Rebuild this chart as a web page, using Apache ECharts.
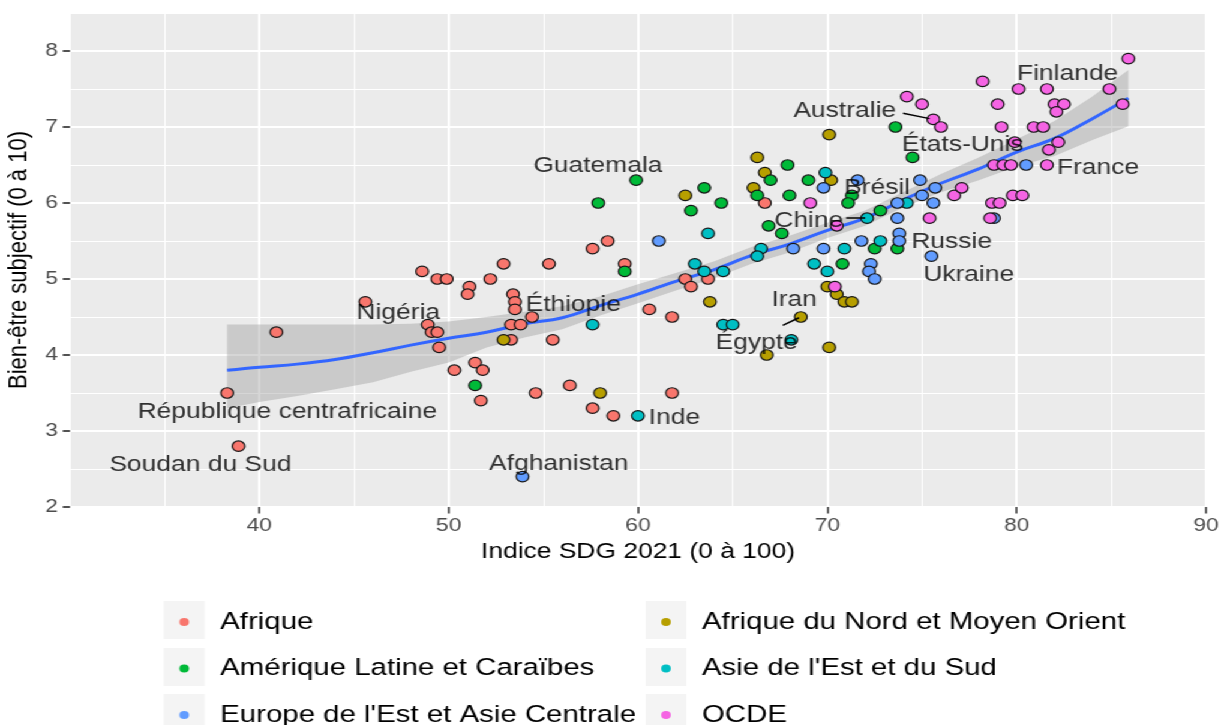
<!DOCTYPE html>
<html>
<head>
<meta charset="utf-8">
<script src="https://cdn.jsdelivr.net/npm/echarts@6/dist/echarts.min.js"></script>
<style>
html,body{margin:0;padding:0;background:#fff;overflow:hidden;width:1220px;height:725px;}
#c{width:1017px;height:725px;transform:scaleX(1.2);transform-origin:0 0;}
</style>
</head>
<body>
<div id="c"></div>
<script>
// ---------- data ----------
const groupNames = ['Afrique', 'Afrique du Nord et Moyen Orient', 'Amérique Latine et Caraïbes',
  "Asie de l'Est et du Sud", "Europe de l'Est et Asie Centrale", 'OCDE'];

const afrique = [[38.3,3.5],[38.9,2.8],[40.9,4.3],[45.6,4.7],[48.6,5.1],[49.4,5.0],[49.9,5.0],[48.9,4.4],
  [49.1,4.3],[49.4,4.3],[49.5,4.1],[50.3,3.8],[51.1,4.9],[51.0,4.8],[52.2,5.0],[52.9,5.2],[55.3,5.2],
  [57.6,5.4],[58.4,5.5],[59.3,5.2],[53.4,4.8],[53.5,4.7],[53.5,4.6],[54.4,4.5],[53.3,4.4],[53.8,4.4],
  [53.3,4.2],[55.5,4.2],[51.4,3.9],[51.8,3.8],[51.7,3.4],[54.6,3.5],[56.4,3.6],[57.6,3.3],[58.7,3.2],
  [60.6,4.6],[61.8,4.5],[61.8,3.5],[62.5,5.0],[62.8,4.9],[63.7,5.0],[66.7,6.0]];
const afriqueNord = [[52.9,4.2],[58.0,3.5],[63.8,4.7],[66.8,4.0],[68.6,4.5],[70.1,4.1],[70.0,4.9],[70.5,4.8],
  [70.9,4.7],[71.3,4.7],[70.2,6.3],[70.1,6.9],[62.5,6.1],[66.3,6.6],[66.7,6.4],[66.1,6.2]];
const ameriqueLatine = [[59.3,5.1],[51.4,3.6],[59.9,6.3],[57.9,6.0],[63.5,6.2],[62.8,5.9],[64.4,6.0],[67.9,6.5],
  [67.0,6.3],[69.0,6.3],[66.3,6.1],[68.0,6.1],[66.9,5.7],[67.6,5.6],[73.6,7.0],[74.5,6.6],[71.3,6.1],
  [71.1,6.0],[72.8,5.9],[73.7,5.4],[72.5,5.4],[70.8,5.2]];
const asie = [[60.0,3.2],[57.6,4.4],[63.0,5.2],[63.5,5.1],[64.5,5.1],[64.5,4.4],[65.0,4.4],[68.1,4.2],[63.7,5.6],
  [66.5,5.4],[66.3,5.3],[69.3,5.2],[70.0,5.1],[69.9,6.4],[74.2,6.0],[72.1,5.8],[72.8,5.5],[70.9,5.4]];
const europeEst = [[53.9,2.4],[61.1,5.5],[69.8,6.2],[71.6,6.3],[74.9,6.3],[75.7,6.2],[75.0,6.1],[75.6,6.0],
  [73.7,6.0],[73.7,5.8],[73.8,5.6],[73.8,5.5],[71.8,5.5],[69.8,5.4],[68.2,5.4],[72.3,5.2],[72.2,5.1],
  [72.5,5.0],[75.5,5.3],[78.8,5.8],[80.5,6.5]];
const ocde = [[70.5,5.7],[69.1,6.0],[70.4,4.9],[75.4,5.8],[74.2,7.4],[75.0,7.3],[75.6,7.1],[76.0,7.0],[78.2,7.6],
  [79.0,7.3],[79.2,7.0],[80.1,7.5],[81.6,7.5],[80.9,7.0],[81.4,7.0],[82.0,7.3],[82.5,7.3],[82.1,7.2],
  [84.9,7.5],[85.9,7.9],[85.6,7.3],[81.7,6.7],[82.2,6.8],[79.9,6.8],[78.8,6.5],[79.3,6.5],[79.7,6.5],
  [81.6,6.5],[76.7,6.1],[77.1,6.2],[78.7,6.0],[79.1,6.0],[79.8,6.1],[80.3,6.1],[78.6,5.8]];

// loess curve and its confidence band
const smoothX     = [38.3,40,42,44,46,48,50,52,54,56,58,60,62,64,66,68,70,72,74,76,78,80,82,84,85.9];
const smoothY     = [3.80,3.84,3.88,3.94,4.03,4.13,4.22,4.30,4.41,4.49,4.65,4.80,4.97,5.12,5.31,5.46,5.64,5.80,6.04,6.26,6.45,6.67,6.85,7.11,7.38];
const bandUpper   = [4.40,4.40,4.40,4.40,4.40,4.41,4.44,4.50,4.57,4.64,4.77,4.93,5.08,5.23,5.42,5.57,5.74,5.90,6.14,6.38,6.60,6.84,7.08,7.40,7.75];
const bandLower   = [3.30,3.38,3.46,3.55,3.64,3.78,3.90,4.10,4.23,4.34,4.52,4.68,4.85,5.01,5.20,5.35,5.54,5.70,5.94,6.14,6.30,6.48,6.62,6.83,7.01];

// country labels (data coordinates)
const labelTexts = ['Finlande','Australie','États-Unis','France','Brésil','Guatemala','Chine','Russie','Ukraine',
  'Iran','Égypte','Éthiopie','Nigéria','République centrafricaine','Soudan du Sud','Inde','Afghanistan'];
const labelX = [82.69,70.92,77.15,84.30,72.63,57.88,69.02,76.57,77.47,68.25,66.27,56.58,47.34,41.48,36.89,61.92,55.82];
const labelY = [7.70,7.21,6.76,6.46,6.20,6.49,5.76,5.49,5.05,4.72,4.16,4.66,4.55,3.25,2.55,3.17,2.57];
const leaderSegments = [[[74.0,7.18],[75.4,7.11]], [[71.0,5.80],[72.0,5.80]], [[67.65,4.39],[68.5,4.49]]];

const xTicks = [40,50,60,70,80,90];
const yTicks = [2,3,4,5,6,7,8];

// ---------- chart ----------
const FONT = "'Liberation Sans', Arial, Helvetica, sans-serif";
const colors = ['#F8766D','#B79F00','#00BA38','#00BFC4','#619CFF','#F564E3'];
const groups = [afrique, afriqueNord, ameriqueLatine, asie, europeEst, ocde];

const chart = echarts.init(document.getElementById('c'), null, {renderer: 'canvas'});

const pointSeries = groupNames.map((n, i) => ({
  name: n, type: 'scatter', xAxisIndex: 1, yAxisIndex: 1,
  data: groups[i], symbol: 'circle', symbolSize: 10.5,
  itemStyle: {color: colors[i], borderColor: '#151515', borderWidth: 1.2, opacity: 1},
  emphasis: {disabled: true}, z: 5
}));

const series = [
  {
    type: 'custom', xAxisIndex: 1, yAxisIndex: 1, silent: true, z: 3,
    data: [[smoothX[0], bandUpper[0]]],
    renderItem: function (params, api) {
      const pts = [];
      for (let i = 0; i < smoothX.length; i++) pts.push(api.coord([smoothX[i], bandUpper[i]]));
      for (let i = smoothX.length - 1; i >= 0; i--) pts.push(api.coord([smoothX[i], bandLower[i]]));
      return {type: 'polygon', shape: {points: pts}, style: {fill: 'rgba(153,153,153,0.4)'}};
    }
  },
  {
    type: 'line', xAxisIndex: 1, yAxisIndex: 1, z: 4, silent: true,
    data: smoothX.map((x, i) => [x, smoothY[i]]),
    smooth: 0.4, showSymbol: false, symbol: 'none',
    lineStyle: {color: '#3366FF', width: 3}
  },
  ...pointSeries,
  {
    type: 'lines', coordinateSystem: 'cartesian2d', xAxisIndex: 1, yAxisIndex: 1, z: 6, silent: true,
    data: leaderSegments.map(s => ({coords: s})),
    lineStyle: {color: '#000', width: 1.5, opacity: 1}
  },
  {
    type: 'scatter', xAxisIndex: 1, yAxisIndex: 1, z: 7, silent: true,
    data: labelTexts.map((t, i) => ({name: t, value: [labelX[i], labelY[i]]})),
    symbolSize: 1, itemStyle: {color: 'rgba(0,0,0,0)'},
    label: {show: true, position: 'inside', formatter: '{b}', fontSize: 22, color: '#000',
      fontFamily: FONT, align: 'center', verticalAlign: 'middle'}
  }
];

const keyBoxes = [];
[153.5, 555].forEach(cx => [620, 667, 713].forEach(cy => keyBoxes.push({
  type: 'rect', z: 0, silent: true,
  shape: {x: cx - 17, y: cy - 19, width: 34, height: 38},
  style: {fill: '#F4F4F4'}
})));

const legendCommon = {
  orient: 'vertical', top: 608, height: 200, padding: 0, itemGap: 18.5, itemWidth: 8, itemHeight: 8,
  icon: 'circle', selectedMode: false, z: 4,
  itemStyle: {borderWidth: 0},
  textStyle: {fontSize: 24.5, color: '#000', fontFamily: FONT, lineHeight: 28, padding: [0, 0, 0, 21]}
};

chart.setOption({
  animation: false,
  textStyle: {fontFamily: FONT},
  graphic: {elements: keyBoxes},
  legend: [
    Object.assign({}, legendCommon, {left: 149.5, data: [groupNames[0], groupNames[2], groupNames[4]]}),
    Object.assign({}, legendCommon, {left: 551, data: [groupNames[1], groupNames[3], groupNames[5]]})
  ],
  grid: {left: 58.33, right: 12, top: 13, bottom: 218, show: true, backgroundColor: '#EBEBEB',
    borderWidth: 0, containLabel: false, outerBoundsMode: 'none'},
  xAxis: [
    {type: 'value', min: 30, max: 90, interval: 5, position: 'bottom', z: 1,
      axisLine: {show: false}, axisTick: {show: false}, axisLabel: {show: false},
      splitLine: {show: true, lineStyle: {color: '#FFFFFF', width: 1.1}}},
    {type: 'value', min: 30, max: 90, interval: 10, position: 'bottom', z: 2,
      axisLine: {show: false},
      axisTick: {show: true, length: 6.5, lineStyle: {color: '#333333', width: 1.5}, customValues: xTicks},
      axisLabel: {show: true, margin: 9, fontSize: 19, color: '#4D4D4D', fontFamily: FONT,
        formatter: v => xTicks.includes(v) ? String(v) : ''},
      splitLine: {show: true, lineStyle: {color: '#FFFFFF', width: 2}},
      name: 'Indice SDG 2021 (0 à 100)', nameLocation: 'middle', nameGap: 34,
      nameTextStyle: {fontSize: 22, color: '#000', fontFamily: FONT}}
  ],
  yAxis: [
    {type: 'value', min: 2, max: 8.5, interval: 0.5, position: 'left', z: 1,
      axisLine: {show: false}, axisTick: {show: false}, axisLabel: {show: false},
      splitLine: {show: true, lineStyle: {color: '#FFFFFF', width: 1.1}}},
    {type: 'value', min: 2, max: 8.5, interval: 1, position: 'left', z: 2,
      axisLine: {show: false},
      axisTick: {show: true, length: 6, lineStyle: {color: '#333333', width: 1.7}, customValues: yTicks},
      axisLabel: {show: true, margin: 10, fontSize: 19, color: '#4D4D4D', fontFamily: FONT,
        formatter: v => yTicks.includes(v) ? String(v) : ''},
      splitLine: {show: true, lineStyle: {color: '#FFFFFF', width: 2}},
      name: 'Bien-être subjectif (0 à 10)', nameLocation: 'middle', nameGap: 23, nameRotate: 90,
      nameTextStyle: {fontSize: 22, color: '#000', fontFamily: FONT}}
  ],
  series: series
});
</script>
</body>
</html>
